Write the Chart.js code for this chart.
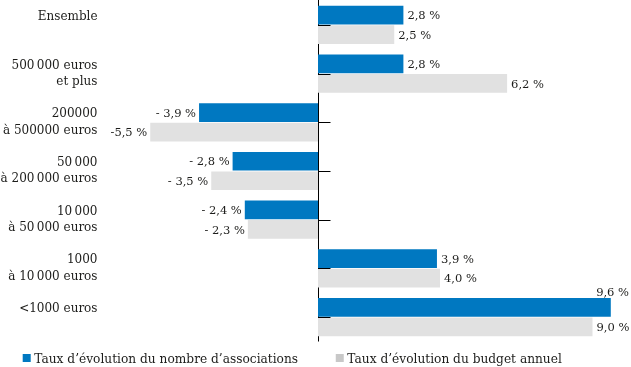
<!DOCTYPE html>
<html><head><meta charset="utf-8">
<script src="https://cdn.jsdelivr.net/npm/chart.js@4"></script>
<style>html,body{margin:0;padding:0;background:#fff}#wrap{width:631px;height:367px}</style>
</head><body><div id="wrap"><canvas id="c" width="631" height="367"></canvas></div>
<script>
const categories = [["Ensemble"], ["500\u202F000 euros", "et plus"], ["200000", "à 500000 euros"], ["50\u202F000", "à 200\u202F000 euros"], ["10\u202F000", "à 50\u202F000 euros"], ["1000", "à 10\u202F000 euros"], ["<1000 euros"]];
const seriesNames = ["Taux d’évolution du nombre d’associations", "Taux d’évolution du budget annuel"];
const nombreAssociations = [2.8, 2.8, -3.9, -2.8, -2.4, 3.9, 9.6];
const budgetAnnuel = [2.5, 6.2, -5.5, -3.5, -2.3, 4.0, 9.0];
const nombreLabels = ["2,8 %", "2,8 %", "- 3,9 %", "- 2,8 %", "- 2,4 %", "3,9 %", "9,6 %"];
const budgetLabels = ["2,5 %", "6,2 %", "-5,5 %", "- 3,5 %", "- 2,3 %", "4,0 %", "9,0 %"];

const FONT = "'DejaVu Serif', serif";
const TEXT = "#1d1d1b";
const BLUE = "#0078c1";
const GRAY = "#e1e1e1";
const legendColors = [BLUE, "#c8c8c8"];
const valueLabels = [nombreLabels, budgetLabels];

const axisPlugin = {
  id: 'zeroAxis',
  beforeDatasetsDraw(chart) {
    const {ctx, chartArea, scales} = chart;
    const x0 = Math.round(scales.x.getPixelForValue(0)) + 0.5;
    ctx.save();
    ctx.strokeStyle = "#000";
    ctx.lineWidth = 1;
    ctx.beginPath();
    ctx.moveTo(x0, chartArea.top - 0.5);
    ctx.lineTo(x0, chartArea.bottom);
    ctx.stroke();
    ctx.restore();
  },
  afterDatasetsDraw(chart) {
    const {ctx, scales} = chart;
    const x0 = Math.round(scales.x.getPixelForValue(0));
    ctx.save();
    ctx.strokeStyle = "#000";
    ctx.lineWidth = 1;
    categories.forEach((c, i) => {
      const y = Math.round(scales.y.getPixelForValue(i)) + 0.5;
      ctx.beginPath();
      ctx.moveTo(x0, y);
      ctx.lineTo(x0 + 12.5, y);
      ctx.stroke();
    });
    // value labels
    ctx.font = "11.5px " + FONT;
    ctx.fillStyle = TEXT;
    ctx.textBaseline = 'alphabetic';
    chart.data.datasets.forEach((ds, di) => {
      const meta = chart.getDatasetMeta(di);
      meta.data.forEach((bar, i) => {
        const txt = valueLabels[di][i];
        const w = ctx.measureText(txt).width;
        const v = ds.data[i];
        if (v >= 0) {
          if (bar.x + 4 + w > chart.width + 4) {
            ctx.textAlign = 'right';
            ctx.fillText(txt, chart.width - 2, bar.y - bar.height / 2 - 2);
          } else {
            ctx.textAlign = 'left';
            ctx.fillText(txt, bar.x + 4, bar.y + 4.2);
          }
        } else {
          ctx.textAlign = 'right';
          ctx.fillText(txt, bar.x - 3, bar.y + 4.2);
        }
      });
    });
    ctx.restore();
  },
  afterDraw(chart) {
    const ctx = chart.ctx;
    ctx.save();
    ctx.font = "12.2px " + FONT;
    ctx.textBaseline = 'alphabetic';
    ctx.textAlign = 'left';
    let x = 22.7;
    const y = 358;
    chart.data.datasets.forEach((ds, i) => {
      ctx.fillStyle = legendColors[i];
      ctx.fillRect(x, y - 4, 8, 8);
      x += 8 + 3.6;
      ctx.fillStyle = TEXT;
      ctx.fillText(ds.label, x, y + 4.5);
      x += ctx.measureText(ds.label).width + 37.7;
    });
    ctx.restore();
  }
};

new Chart(document.getElementById('c'), {
  type: 'bar',
  data: {
    labels: categories,
    datasets: [
      { label: seriesNames[0], data: nombreAssociations, backgroundColor: BLUE, categoryPercentage: 0.8, barPercentage: 0.96 },
      { label: seriesNames[1], data: budgetAnnuel, backgroundColor: GRAY, categoryPercentage: 0.8, barPercentage: 0.96 }
    ]
  },
  options: {
    indexAxis: 'y',
    responsive: false,
    animation: false,
    devicePixelRatio: 1,
    layout: { padding: { top: 0.5, right: 8, bottom: 25.5, left: 0 } },
    plugins: { legend: { display: false }, tooltip: { enabled: false } },
    scales: {
      x: { min: -7, max: 10, display: false },
      y: {
        grid: { display: false, drawTicks: false },
        border: { display: false },
        afterFit: (s) => { s.width = 104.5; s.paddingTop = 0; s.paddingBottom = 0; },
        ticks: {
          padding: 7,
          color: TEXT,
          font: { family: FONT, size: 12, lineHeight: 1.36 },
          callback: (value, index) => {
            const l = categories[index];
            return l.length === 1 ? [l[0], ""] : l;
          }
        }
      }
    }
  },
  plugins: [axisPlugin]
});
</script></body></html>
